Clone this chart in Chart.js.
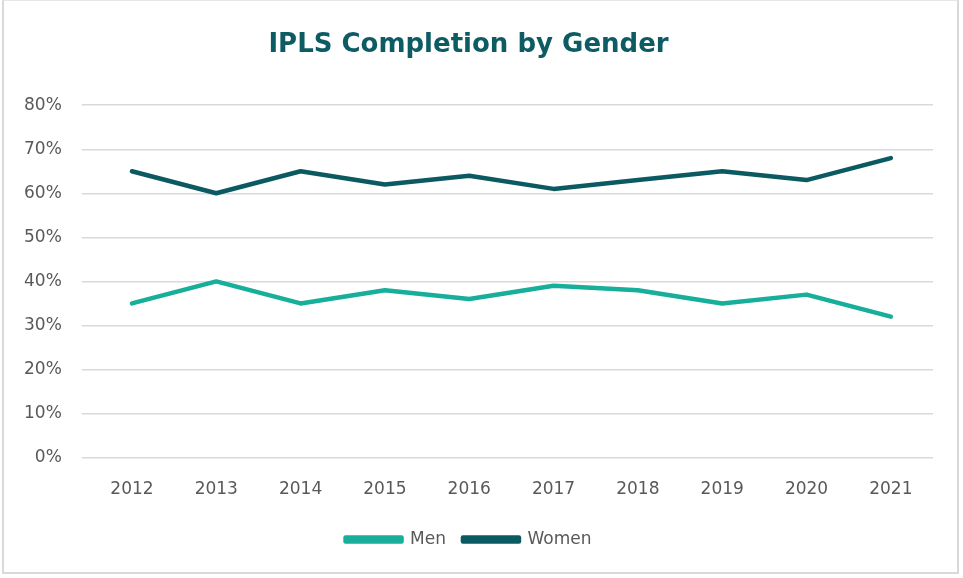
<!DOCTYPE html>
<html><head><meta charset="utf-8">
<script src="https://cdn.jsdelivr.net/npm/chart.js@4/dist/chart.umd.min.js"></script>
<style>
html,body{margin:0;padding:0;background:#fff;}
#wrap{position:absolute;left:2px;top:0px;width:957px;height:574px;border:2px solid #d9d9d9;box-sizing:border-box;border-top:1px solid #e6e6e6;}
canvas{position:absolute;left:0;top:0;}
</style></head><body>
<div id="wrap"></div>
<canvas id="c" width="963" height="578"></canvas>
<script>
const years = ["2012","2013","2014","2015","2016","2017","2018","2019","2020","2021"];
const men = [35,40,35,38,36,39,38,35,37,32];
const women = [65,60,65,62,64,61,63,65,63,68];
const yTicks = [0,10,20,30,40,50,60,70,80];
const titleText = "IPLS Completion by Gender";
const FONT = "'DejaVu Sans', Verdana, sans-serif";

new Chart(document.getElementById('c'), {
  type: 'line',
  data: {
    labels: years,
    datasets: [
      {label:'Men', data: men, borderColor:'#17AE9A', backgroundColor:'#17AE9A', borderWidth:4.5, pointRadius:0, tension:0, borderCapStyle:'round', borderJoinStyle:'round'},
      {label:'Women', data: women, borderColor:'#0B5A61', backgroundColor:'#0B5A61', borderWidth:4.5, pointRadius:0, tension:0, borderCapStyle:'round', borderJoinStyle:'round'}
    ]
  },
  options: {
    responsive:false, animation:false,
    devicePixelRatio:1,
    layout:{padding:{left:4,right:30,top:14,bottom:20}},
    plugins:{
      title:{display:true,text:titleText,color:'#0E5C63',font:{family:FONT,size:26,weight:'bold'},padding:{top:16,bottom:44}},
      legend:{position:'bottom',labels:{color:'#595959',font:{family:FONT,size:17},boxWidth:56,boxHeight:4,padding:17}},
      tooltip:{enabled:false}
    },
    scales:{
      x:{offset:true,grid:{display:false},border:{display:false},ticks:{color:'#595959',font:{family:FONT,size:17},padding:14,maxRotation:0}},
      y:{min:yTicks[0],max:yTicks[yTicks.length-1],grid:{color:'#d9d9d9',lineWidth:1.5},border:{display:false},
         afterBuildTicks:a=>{a.ticks=yTicks.map(v=>({value:v}));},
         ticks:{color:'#595959',font:{family:FONT,size:17},padding:20,callback:v=>v+'%'}}
    }
  }
});
</script>
</body></html>
